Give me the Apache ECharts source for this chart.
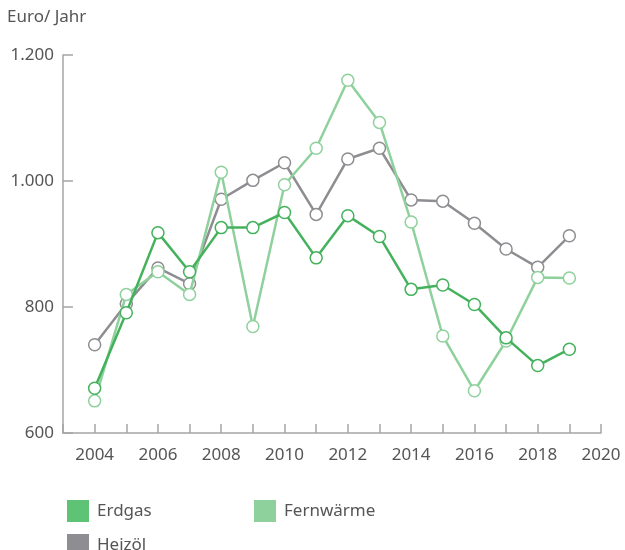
<!DOCTYPE html>
<html>
<head>
<meta charset="utf-8">
<script src="https://cdn.jsdelivr.net/npm/echarts@6/dist/echarts.min.js"></script>
<style>
  html, body { margin: 0; padding: 0; background: #fff; }
  #chart { width: 625px; height: 550px; }
</style>
</head>
<body>
<div id="chart"></div>
<script>
// Jahre und Kosten (Euro/Jahr)
var years = [2004, 2005, 2006, 2007, 2008, 2009, 2010, 2011, 2012, 2013, 2014, 2015, 2016, 2017, 2018, 2019];
var erdgas = [671, 791, 918, 856, 926, 926, 950, 878, 945, 912, 828, 835, 804, 751, 707, 733];
var fernwaerme = [651, 820, 856, 820, 1014, 769, 994, 1052, 1160, 1093, 935, 754, 667, 746, 847, 846];
var heizoel = [740, 805, 862, 837, 971, 1001, 1029, 947, 1035, 1052, 970, 968, 933, 892, 863, 913];

var colErdgas = "#44b25c";
var colFern = "#8fd19c";
var colHeiz = "#8e8e92";
var textCol = "#555";
var axisCol = "#a5a5a8";
var font = "Noto Sans";

function pairs(vals) {
  return vals.map(function (v, i) { return [years[i], v]; });
}

function mkSeries(name, vals, col, z) {
  return {
    name: name,
    type: "line",
    data: pairs(vals),
    z: z,
    symbol: "circle",
    symbolSize: 12,
    lineStyle: { color: col, width: 2.5 },
    itemStyle: { color: "#fff", borderColor: col, borderWidth: 1.5 },
    emphasis: { disabled: true }
  };
}

var legendText = { color: textCol, fontSize: 17, padding: [0, 0, 0, 3] };

var chart = echarts.init(document.getElementById("chart"));
var option = {
  animation: false,
  textStyle: { fontFamily: font },
  grid: { left: 63, right: 24, top: 55, bottom: 117 },
  graphic: [{
    type: "text", left: 7, top: 9,
    style: { text: "Euro/ Jahr", fill: textCol, font: "17px " + font }
  }],
  xAxis: {
    type: "value",
    min: 2003, max: 2020, interval: 1,
    axisLine: { lineStyle: { color: axisCol, width: 1.5 } },
    axisTick: { inside: true, length: 9, lineStyle: { color: axisCol, width: 1.5 } },
    splitLine: { show: false },
    axisLabel: {
      color: textCol, fontSize: 17, margin: 14,
      formatter: function (v) { return (v % 2 === 0) ? String(v) : ""; }
    }
  },
  yAxis: {
    type: "value",
    min: 600, max: 1200, interval: 200,
    axisLine: { show: true, lineStyle: { color: axisCol, width: 1.5 } },
    axisTick: { show: true, inside: true, length: 10, lineStyle: { color: axisCol, width: 1.5 } },
    splitLine: { show: false },
    axisLabel: {
      color: textCol, fontSize: 17, margin: 9,
      formatter: function (v) { return v >= 1000 ? (Math.floor(v / 1000) + "." + String(v % 1000).padStart(3, "0")) : String(v); }
    }
  },
  legend: [
    {
      left: 62, top: 495, icon: "rect", itemWidth: 22, itemHeight: 22,
      textStyle: legendText,
      data: [{ name: "Erdgas", itemStyle: { color: "#5ec375", borderWidth: 0 } }]
    },
    {
      left: 249, top: 495, icon: "rect", itemWidth: 22, itemHeight: 22,
      textStyle: legendText,
      data: [{ name: "Fernwärme", itemStyle: { color: colFern, borderWidth: 0 } }]
    },
    {
      left: 62, top: 529, icon: "rect", itemWidth: 22, itemHeight: 22,
      textStyle: legendText,
      data: [{ name: "Heizöl", itemStyle: { color: colHeiz, borderWidth: 0 } }]
    }
  ],
  series: [
    mkSeries("Heizöl", heizoel, colHeiz, 2),
    mkSeries("Fernwärme", fernwaerme, colFern, 3),
    mkSeries("Erdgas", erdgas, colErdgas, 4)
  ]
};
chart.setOption(option);
</script>
</body>
</html>
